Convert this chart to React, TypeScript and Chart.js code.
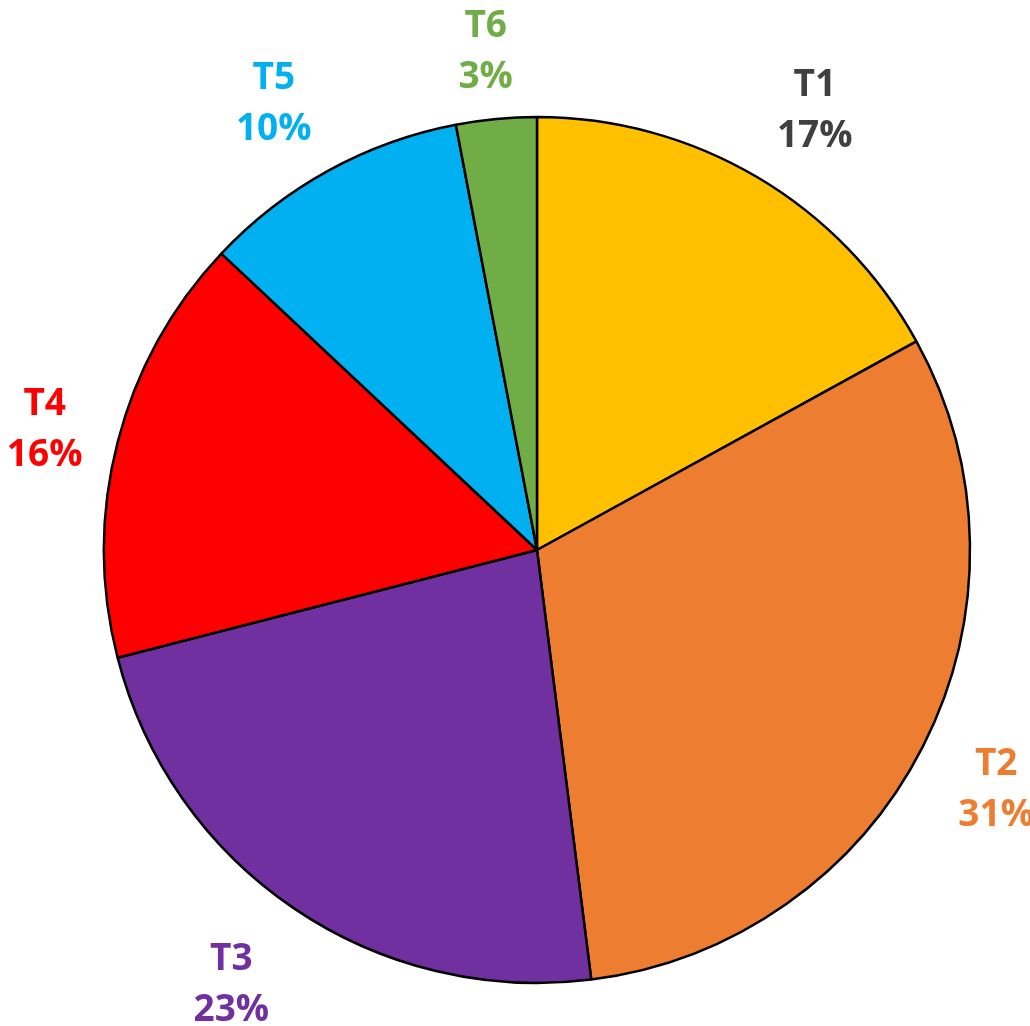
import React, { useEffect, useRef } from "react";
import { Chart, registerables } from "chart.js";

Chart.register(...registerables);

const categories = ["T1", "T2", "T3", "T4", "T5", "T6"];
const values = [17, 31, 23, 16, 10, 3];
const sliceColors = ["#FFC000", "#ED7D31", "#7030A0", "#FF0000", "#00B0F0", "#70AD47"];
const labelColors = ["#404040", "#ED7D31", "#7030A0", "#FF0000", "#00B0F0", "#70AD47"];

const W = 1030;
const H = 1026;

const outsideLabels = {
  id: "outsideLabels",
  afterDraw(chart: any) {
    const ctx = chart.ctx;
    const meta = chart.getDatasetMeta(0);
    const total = values.reduce((a, b) => a + b, 0);
    ctx.save();
    ctx.font = "bold 37px 'Open Sans', sans-serif";
    ctx.textAlign = "center";
    ctx.textBaseline = "middle";
    meta.data.forEach((arc: any, i: number) => {
      const { x, y, startAngle, endAngle, outerRadius } = arc.getProps(
        ["x", "y", "startAngle", "endAngle", "outerRadius"],
        true
      );
      const mid = (startAngle + endAngle) / 2;
      const l1 = categories[i];
      const l2 = Math.round((values[i] / total) * 100) + "%";
      const hw = Math.max(ctx.measureText(l1).width, ctx.measureText(l2).width) / 2;
      const hh = 45;
      const c = Math.cos(mid);
      const s = Math.sin(mid);
      const d = outerRadius + 25 + hw * Math.abs(c) + hh * Math.abs(s);
      let cx = x + d * c + 40 * c * s * s;
      const cy = y + d * s + 5 + (s > 0 ? 2 : 0);
      cx = Math.min(Math.max(cx, hw + 2), W - hw + 4);
      ctx.fillStyle = labelColors[i];
      ctx.fillText(l1, cx, cy - 25);
      ctx.fillText(l2, cx, cy + 26);
    });
    ctx.restore();
  },
};

export default function App() {
  const ref = useRef<HTMLCanvasElement | null>(null);
  useEffect(() => {
    document.body.style.margin = "0";
    if (!ref.current) return;
    const chart = new Chart(ref.current, {
      type: "pie",
      data: {
        labels: categories,
        datasets: [
          {
            data: values,
            backgroundColor: sliceColors,
            borderColor: "#000000",
            borderWidth: 2.5,
            radius: 433,
          } as any,
        ],
      },
      options: {
        responsive: false,
        animation: false,
        layout: { padding: { left: 104, right: 60, top: 117, bottom: 43 } },
        plugins: {
          legend: { display: false },
          tooltip: { enabled: false },
        },
      },
      plugins: [outsideLabels],
    });
    return () => chart.destroy();
  }, []);
  return (
    <div style={{ position: "absolute", left: 0, top: 0, width: W, height: H, background: "#fff" }}>
      <canvas ref={ref} width={W} height={H} style={{ width: W, height: H, display: "block" }} />
    </div>
  );
}
